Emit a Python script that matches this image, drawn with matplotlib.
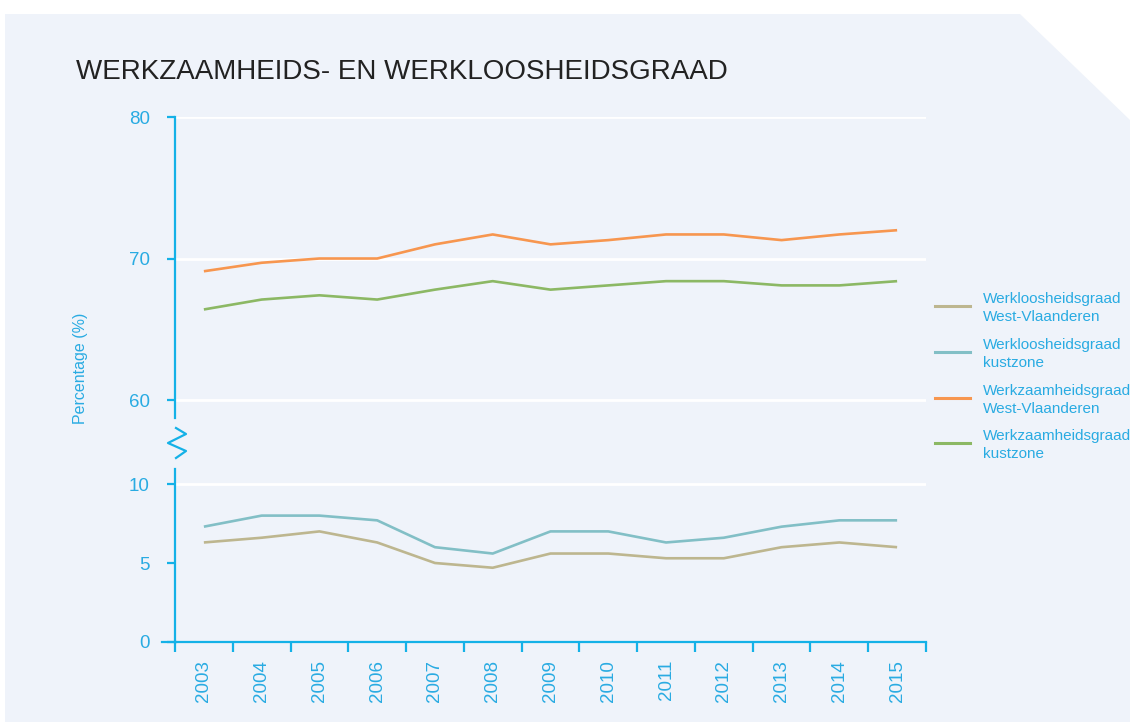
import matplotlib
matplotlib.use("Agg")
import matplotlib.pyplot as plt
from matplotlib.lines import Line2D
from matplotlib.patches import Polygon

years = ["2003", "2004", "2005", "2006", "2007", "2008", "2009",
         "2010", "2011", "2012", "2013", "2014", "2015"]
werkloos_wvl = [6.3, 6.6, 7.0, 6.3, 5.0, 4.7, 5.6, 5.6, 5.3, 5.3, 6.0, 6.3, 6.0]
werkloos_kust = [7.3, 8.0, 8.0, 7.7, 6.0, 5.6, 7.0, 7.0, 6.3, 6.6, 7.3, 7.7, 7.7]
werkzaam_wvl = [69.1, 69.7, 70.0, 70.0, 71.0, 71.7, 71.0, 71.3, 71.7, 71.7, 71.3, 71.7, 72.0]
werkzaam_kust = [66.4, 67.1, 67.4, 67.1, 67.8, 68.4, 67.8, 68.1, 68.4, 68.4, 68.1, 68.1, 68.4]
labels = ["Werkloosheidsgraad\nWest-Vlaanderen", "Werkloosheidsgraad\nkustzone",
          "Werkzaamheidsgraad\nWest-Vlaanderen", "Werkzaamheidsgraad\nkustzone"]
colors = ["#bdb68f", "#82bfc6", "#f7964f", "#8cb864"]
title = "WERKZAAMHEIDS- EN WERKLOOSHEIDSGRAAD"
ylabel = "Percentage (%)"

W, H = 1130, 722
AX = "#14b1e7"
TXT = "#29abe2"
BG = "#eff3fa"
FONT = "Liberation Sans"
plt.rcParams["font.family"] = [FONT, "DejaVu Sans"]

fig = plt.figure(figsize=(W / 100, H / 100), dpi=100)
fig.patch.set_facecolor("white")

def fx(px):
    return px / W

def fy(py):
    return 1 - py / H

# background panel with cut corner
panel = Polygon([(fx(5), fy(14)), (fx(1020), fy(14)), (fx(1130), fy(120)),
                 (fx(1130), fy(722)), (fx(5), fy(722))],
                closed=True, transform=fig.transFigure, facecolor=BG,
                edgecolor="none", zorder=-10)
fig.add_artist(panel)

left, right = 175, 926
ax_u = fig.add_axes([fx(left), fy(418), fx(right) - fx(left), fy(117) - fy(418)])
ax_l = fig.add_axes([fx(left), fy(642), fx(right) - fx(left), fy(469) - fy(642)])

x = list(range(len(years)))
for ax in (ax_u, ax_l):
    ax.set_facecolor("none")
    ax.set_xlim(-0.5, len(years) - 0.5)
    for s in ("top", "right", "bottom"):
        ax.spines[s].set_visible(False)
    ax.spines["left"].set_color(AX)
    ax.spines["left"].set_linewidth(1.6)
    ax.tick_params(axis="y", colors=AX, labelcolor=TXT, length=6, width=1.6,
                   pad=12, labelsize=13.5)

ax_u.set_ylim(58.73, 80)
ax_u.set_yticks([60, 70, 80])
ax_u.set_xticks([])
ax_u.grid(axis="y", color="white", linewidth=2, zorder=1)
ax_u.set_axisbelow(True)

ax_l.set_ylim(0, 10.95)
ax_l.set_yticks([0, 5, 10])
for v in [10]:
    ax_l.axhline(v, color="white", linewidth=2, zorder=1)
ax_l.spines["bottom"].set_visible(True)
ax_l.spines["bottom"].set_color(AX)
ax_l.spines["bottom"].set_linewidth(1.6)
ax_l.set_xticks(x)
ax_l.set_xticklabels(years, rotation=90, fontsize=13.5, color=TXT)
ax_l.set_xticks([i - 0.5 for i in range(len(years) + 1)], minor=True)
ax_l.tick_params(axis="x", which="major", length=0, pad=13)
ax_l.tick_params(axis="x", which="minor", length=7.5, width=1.6, color=AX)

ax_l.plot(x, werkloos_wvl, color=colors[0], lw=1.9, zorder=3, solid_capstyle="butt")
ax_l.plot(x, werkloos_kust, color=colors[1], lw=1.9, zorder=3, solid_capstyle="butt")
ax_u.plot(x, werkzaam_wvl, color=colors[2], lw=1.9, zorder=3, solid_capstyle="butt")
ax_u.plot(x, werkzaam_kust, color=colors[3], lw=1.9, zorder=3, solid_capstyle="butt")

# x-axis extends slightly left
fig.add_artist(Line2D([fx(162), fx(176)], [fy(642), fy(642)], color=AX, lw=1.6,
                      transform=fig.transFigure))
# break zigzag
zx = [176, 186, 168, 186, 176]
zy = [428, 434, 443, 451, 458]
fig.add_artist(Line2D([fx(v) for v in zx], [fy(v) for v in zy], color=AX, lw=1.6,
                      transform=fig.transFigure))

fig.text(fx(76), fy(79), title, fontsize=20, color="#222222", va="baseline", ha="left")
fig.text(fx(81), fy(368), ylabel, rotation=90, fontsize=11.5, color=TXT,
         ha="center", va="center")

# legend
leg_y = [306, 352, 398, 443]
for c, lab, yy in zip(colors, labels, leg_y):
    fig.add_artist(Line2D([fx(935), fx(970)], [fy(yy), fy(yy)], color=c, lw=2.2,
                          transform=fig.transFigure))
    fig.text(fx(983), fy(yy + 2), lab, fontsize=11, color=TXT, ha="left",
             va="center", linespacing=1.3)

fig.savefig("out.png", dpi=100, facecolor=fig.get_facecolor())
